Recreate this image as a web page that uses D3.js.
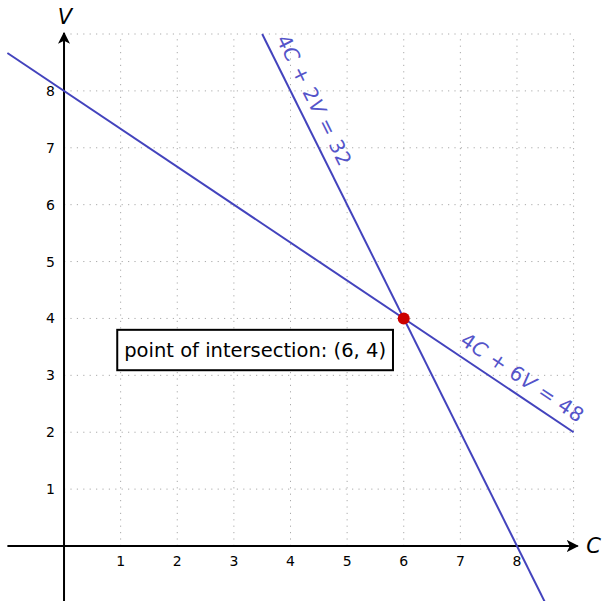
<!DOCTYPE html>
<html>
<head>
<meta charset="utf-8">
<script src="https://cdn.jsdelivr.net/npm/d3@7"></script>
<style>
  body { margin: 0; background: #fff; }
  text { font-family: "DejaVu Sans", sans-serif; }
</style>
</head>
<body>
<div id="chart"></div>
<script>
// Chart data
var xTicks = [1, 2, 3, 4, 5, 6, 7, 8];
var yTicks = [1, 2, 3, 4, 5, 6, 7, 8];
var gridVals = [0, 1, 2, 3, 4, 5, 6, 7, 8, 9];
var xDomain = [-1, 9];
var yDomain = [-1, 9];

// 4C + 6V = 48 and 4C + 2V = 32, drawn as segments
var line1 = [[-1, 26 / 3], [9, 2]];
var line2 = [[3.5, 9], [8.5, -1]];
var line1Label = ["4", "C", " + 6", "V", " = 48"];
var line2Label = ["4", "C", " + 2", "V", " = 32"];
var intersection = [6, 4];
var boxText = "point of intersection: (6, 4)";
var boxCorner = [0.94, 3.8]; // upper-left of the note box, in data units
var boxCorner2 = [5.81, 3.09];

var width = 602, height = 601;
var lineColor = "#4343bd";
var labelColor = "#5454c9";

var x = d3.scaleLinear().domain(xDomain).range([7.4, 573.6]);
var y = d3.scaleLinear().domain(yDomain).range([602.9, 34]);

var svg = d3.select("#chart").append("svg")
    .attr("width", width)
    .attr("height", height);

svg.append("defs").append("marker")
    .attr("id", "arrow")
    .attr("viewBox", "0 0 10 10")
    .attr("refX", 9)
    .attr("refY", 5)
    .attr("markerWidth", 6)
    .attr("markerHeight", 6)
    .attr("markerUnits", "strokeWidth")
    .attr("orient", "auto")
  .append("path")
    .attr("d", "M0,0 L10,5 L0,10 L2.5,5 Z")
    .attr("fill", "#000");

// dotted grid
var grid = svg.append("g").attr("class", "grid");
grid.selectAll(".vgrid")
    .data(gridVals)
  .enter().append("line")
    .attr("x1", function(d) { return x(d); })
    .attr("x2", function(d) { return x(d); })
    .attr("y1", y(0))
    .attr("y2", y(9))
    .style("stroke", "#aaaaaa")
    .style("stroke-width", 1)
    .style("stroke-dasharray", "1.2,5.2");
grid.selectAll(".hgrid")
    .data(gridVals)
  .enter().append("line")
    .attr("y1", function(d) { return y(d); })
    .attr("y2", function(d) { return y(d); })
    .attr("x1", x(0))
    .attr("x2", x(9))
    .style("stroke", "#aaaaaa")
    .style("stroke-width", 1)
    .style("stroke-dasharray", "1.2,5.2");

// axes
svg.append("line")
    .attr("x1", x(-1)).attr("y1", y(0))
    .attr("x2", x(9) + 4).attr("y2", y(0))
    .style("stroke", "#000")
    .style("stroke-width", 2)
    .attr("marker-end", "url(#arrow)");
svg.append("line")
    .attr("x1", x(0)).attr("y1", y(-1))
    .attr("x2", x(0)).attr("y2", y(9) - 1)
    .style("stroke", "#000")
    .style("stroke-width", 2)
    .attr("marker-end", "url(#arrow)");

// tick labels
svg.selectAll(".xtick")
    .data(xTicks)
  .enter().append("text")
    .attr("x", function(d) { return x(d); })
    .attr("y", y(0) + 20)
    .attr("text-anchor", "middle")
    .style("font-size", "14px")
    .text(function(d) { return d; });
svg.selectAll(".ytick")
    .data(yTicks)
  .enter().append("text")
    .attr("x", x(0) - 9)
    .attr("y", function(d) { return y(d) + 5; })
    .attr("text-anchor", "end")
    .style("font-size", "14px")
    .text(function(d) { return d; });

// axis titles
svg.append("text")
    .attr("x", x(9) + 20)
    .attr("y", y(0) + 7)
    .attr("text-anchor", "middle")
    .style("font-size", "21px")
    .style("font-style", "italic")
    .text("C");
svg.append("text")
    .attr("x", x(0) + 1)
    .attr("y", y(9) - 10)
    .attr("text-anchor", "middle")
    .style("font-size", "21px")
    .style("font-style", "italic")
    .text("V");

// constraint lines
var lineGen = d3.line()
    .x(function(d) { return x(d[0]); })
    .y(function(d) { return y(d[1]); });
[line1, line2].forEach(function(seg) {
    svg.append("path")
        .attr("d", lineGen(seg))
        .style("fill", "none")
        .style("stroke", lineColor)
        .style("stroke-width", 2);
});

// rotated label along a line, at data point p, offset up from the line
function lineLabel(seg, pos, parts, offset) {
    var ang = Math.atan2(y(seg[1][1]) - y(seg[0][1]), x(seg[1][0]) - x(seg[0][0])) * 180 / Math.PI;
    var px = x(pos[0]), py = y(pos[1]);
    var t = svg.append("text")
        .attr("transform", "translate(" + px + "," + py + ") rotate(" + ang + ")")
        .attr("x", 0)
        .attr("y", -offset)
        .attr("text-anchor", "middle")
        .style("font-size", "20px")
        .style("letter-spacing", "0.5px")
        .style("fill", labelColor);
    parts.forEach(function(p, i) {
        t.append("tspan")
            .style("font-style", (i % 2 === 1) ? "italic" : "normal")
            .attr("xml:space", "preserve")
            .text(p);
    });
}
lineLabel(line1, [7.93, 8 - 2 * 7.93 / 3], line1Label, 10);
lineLabel(line2, [4.15, 16 - 2 * 4.15], line2Label, 10);

// note box
svg.append("rect")
    .attr("x", x(boxCorner[0]))
    .attr("y", y(boxCorner[1]))
    .attr("width", x(boxCorner2[0]) - x(boxCorner[0]))
    .attr("height", y(boxCorner2[1]) - y(boxCorner[1]))
    .style("fill", "#fff")
    .style("stroke", "#000")
    .style("stroke-width", 2);
svg.append("text")
    .attr("x", (x(boxCorner[0]) + x(boxCorner2[0])) / 2)
    .attr("y", (y(boxCorner[1]) + y(boxCorner2[1])) / 2 + 7)
    .attr("text-anchor", "middle")
    .style("font-size", "19.5px")
    .text(boxText);

// intersection point
svg.append("circle")
    .attr("cx", x(intersection[0]))
    .attr("cy", y(intersection[1]))
    .attr("r", 6)
    .style("fill", "#cc0000");
</script>
</body>
</html>
